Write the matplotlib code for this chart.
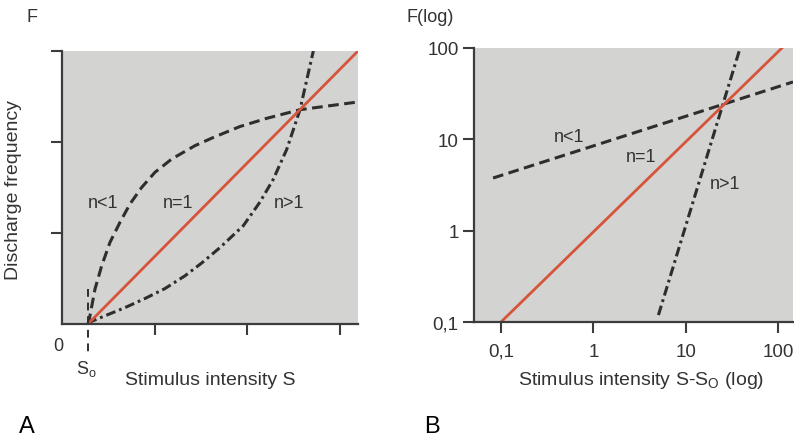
import numpy as np
import matplotlib.pyplot as plt

plt.rcParams['font.family'] = ['Liberation Sans', 'DejaVu Sans']

W, H = 794, 439

# --- panel A: linear axes, S and F in tick units ---
s0 = 0.28
a_lin_x = [s0, 3.2]
a_lin_y = [0.0, 3.0]
# n<1 curve (saturating)
a_low_x = [0.28, 0.292, 0.357, 0.429, 0.519, 0.627, 0.735, 0.862, 1.005,
           1.186, 1.438, 1.636, 1.924, 2.213, 2.573, 3.2]
a_low_y = [0.0, 0.036, 0.385, 0.64, 0.898, 1.118, 1.319, 1.502, 1.667,
           1.813, 1.96, 2.05, 2.17, 2.26, 2.355, 2.44]
# n>1 curve (accelerating)
a_high_x = [0.28, 0.321, 0.465, 0.681, 0.897, 1.114, 1.33, 1.51, 1.708,
            1.96, 2.14, 2.284, 2.43, 2.573, 2.717]
a_high_y = [0.0, 0.03, 0.09, 0.18, 0.28, 0.39, 0.53, 0.67, 0.84,
            1.08, 1.34, 1.59, 1.92, 2.355, 3.0]

# --- panel B: log-log axes ---
b_lin_x = [0.1, 110]
b_lin_y = [0.1, 100]
b_low_x = [0.082, 145]
b_low_y = [3.77, 42.5]
b_high_x = [5.06, 38.8]
b_high_y = [0.119, 100]
b_ticks = [0.1, 1, 10, 100]
b_tick_labels = ['0,1', '1', '10', '100']

bg = '#d3d3d1'
ink = '#2e2e2e'
txt = '#333333'
red = '#d6553a'
dash = (0, (3.5, 1.8))
dashdot = (0, (3.2, 1.3, 0.9, 1.3))


def px(x, y):
    return x / W, 1 - y / H


def style_axes(ax):
    ax.set_facecolor(bg)
    for side in ('top', 'right'):
        ax.spines[side].set_visible(False)
    for side in ('left', 'bottom'):
        ax.spines[side].set_color('#3c3c3c')
        ax.spines[side].set_linewidth(1.6)
    ax.tick_params(direction='out', length=8, width=1.5, color='#3c3c3c',
                   labelsize=13.5, labelcolor=txt)


fig = plt.figure(figsize=(W / 100, H / 100), dpi=100)

# panel A
axA = fig.add_axes([62 / W, 1 - 325 / H, 296 / W, 273 / H])
style_axes(axA)
axA.plot(a_low_x, a_low_y, color=ink, lw=2.2, ls=dash)
axA.plot(a_high_x, a_high_y, color=ink, lw=2.2, ls=dashdot)
axA.plot(a_lin_x, a_lin_y, color=red, lw=2.0)
axA.plot([s0, s0], [0.38, -0.35], color=ink, lw=1.4, ls=(0, (4, 3)),
         clip_on=False)
axA.set_xlim(0, 3.2)
axA.set_ylim(0, 3)
axA.set_xticks([1, 2, 3])
axA.set_yticks([1, 2, 3])
axA.set_xticklabels([])
axA.set_yticklabels([])
axA.text(0.443, 1.33, 'n<1', ha='center', va='center', fontsize=13, color=txt)
axA.text(1.25, 1.33, 'n=1', ha='center', va='center', fontsize=13, color=txt)
axA.text(2.45, 1.33, 'n>1', ha='center', va='center', fontsize=13, color=txt)

fig.text(*px(32, 18), 'F', ha='center', va='center', fontsize=13, color=txt)
fig.text(*px(14, 190), 'Discharge frequency', rotation=90, ha='center',
         va='center', fontsize=14, color=txt)
fig.text(*px(58, 347), '0', ha='center', va='center', fontsize=13, color=txt)
fig.text(*px(86, 369), r'S$\mathregular{_o}$', ha='center', va='center',
         fontsize=13, color=txt)
fig.text(*px(210, 385), 'Stimulus intensity S', ha='center', va='baseline',
         fontsize=14, color=txt)
fig.text(*px(27, 427), 'A', ha='center', va='center', fontsize=17, color='black')

# panel B
axB = fig.add_axes([474 / W, 1 - 323 / H, 319 / W, 274 / H])
style_axes(axB)
axB.set_xscale('log')
axB.set_yscale('log')
axB.plot(b_low_x, b_low_y, color=ink, lw=2.2, ls=dash)
axB.plot(b_high_x, b_high_y, color=ink, lw=2.2, ls=dashdot)
axB.plot(b_lin_x, b_lin_y, color=red, lw=2.0)
axB.set_xlim(0.051, 145)
axB.set_ylim(0.1, 100)
axB.set_xticks(b_ticks)
axB.set_xticklabels(b_tick_labels)
axB.set_yticks(b_ticks)
axB.set_yticklabels(b_tick_labels)
axB.minorticks_off()
axB.tick_params(axis='x', pad=7)
axB.tick_params(axis='y', pad=3)
axB.text(0.546, 10.7, 'n<1', ha='center', va='center', fontsize=13, color=txt)
axB.text(3.29, 6.48, 'n=1', ha='center', va='center', fontsize=13, color=txt)
axB.text(26.7, 3.32, 'n>1', ha='center', va='center', fontsize=13, color=txt)

fig.text(*px(430, 17), 'F(log)', ha='center', va='center', fontsize=13, color=txt)
fig.text(*px(641, 385), r'Stimulus intensity S-S$\mathregular{_O}$ (log)',
         ha='center', va='baseline', fontsize=14, color=txt)
fig.text(*px(432, 427), 'B', ha='center', va='center', fontsize=17, color='black')

fig.savefig('out.png', dpi=100, facecolor='white')
